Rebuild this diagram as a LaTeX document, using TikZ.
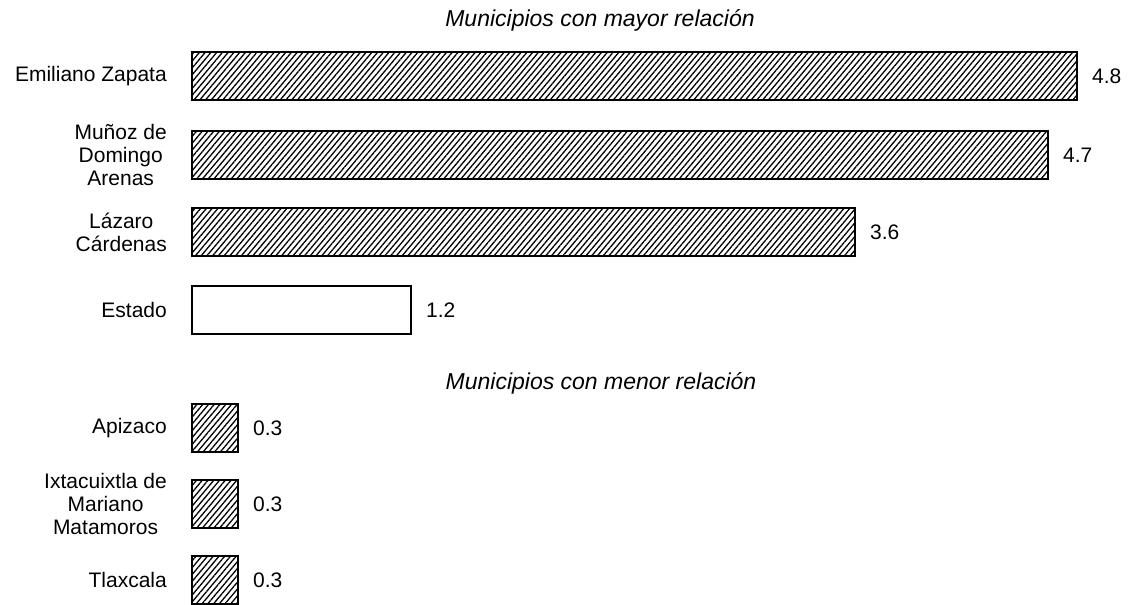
\documentclass[tikz,border=0pt]{standalone}
\usepackage{fontspec}
\setmainfont{Liberation Sans}
\usetikzlibrary{patterns.meta}

\newcommand\labfont{\fontsize{21}{23}\selectfont}
\newcommand\headfont{\fontsize{23}{25}\selectfont\itshape}

\tikzset{
  hatchbar/.style={draw=black, line width=2.2pt,
                   pattern={Lines[angle=50,distance=4.4pt,line width=1.3pt]}},
  plainbar/.style={draw=black, line width=2.2pt, fill=white},
  rowlabel/.style={anchor=east, align=center, inner sep=0pt, font=\labfont},
  barvalue/.style={anchor=west, inner sep=0pt, font=\labfont},
  heading/.style={inner sep=0pt, font=\headfont},
}

\begin{document}
\begin{tikzpicture}[x=1pt, y=-1pt]
\useasboundingbox (0,0) rectangle (1128,605);

\node[heading] (mayor) at (600,20) {Municipios con mayor relación};
\node[heading] (menor) at (601,383) {Municipios con menor relación};

% bars: centre y / end x / value / label / style
\foreach \yc/\xend/\val/\txt/\sty [count=\i] in {
    76/1077/4.8/{Emiliano Zapata}/hatchbar,
    155/1048/4.7/{Muñoz de\\Domingo\\Arenas}/hatchbar,
    232/855/3.6/{Lázaro\\Cárdenas}/hatchbar,
    310/411/1.2/{Estado}/plainbar,
    428/238/0.3/{Apizaco}/hatchbar,
    504/238/0.3/{Ixtacuixtla de\\Mariano\\Matamoros}/hatchbar,
    580/238/0.3/{Tlaxcala}/hatchbar}{
  \draw[\sty] (192,\yc-24) rectangle (\xend,\yc+24);
  \node[rowlabel] (lab\i) at (167,\yc) {\txt};
  \node[barvalue] (val\i) at (\xend+15,\yc) {\val};
}
\end{tikzpicture}
\end{document}
